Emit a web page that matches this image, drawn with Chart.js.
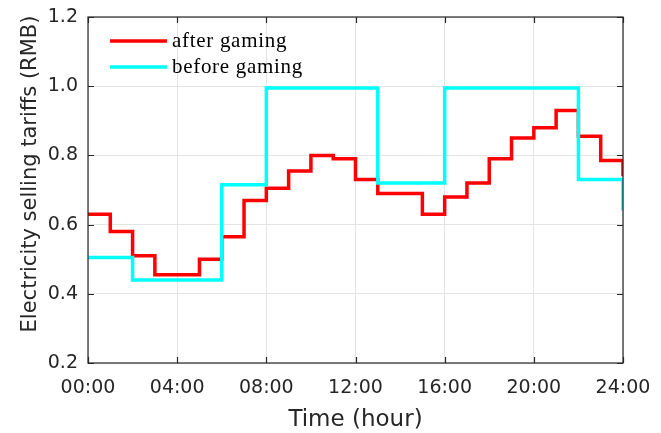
<!DOCTYPE html>
<html><head><meta charset="utf-8">
<script src="https://cdn.jsdelivr.net/npm/chart.js@4/dist/chart.umd.min.js"></script>
<style>html,body{margin:0;padding:0;background:#fff}canvas{display:block}</style>
</head><body>
<div style="width:661px;height:433px"><canvas id="c" width="661" height="433"></canvas></div>
<script>
// ---- data ----
const hours = [0,1,2,3,4,5,6,7,8,9,10,11,12,13,14,15,16,17,18,19,20,21,22,23,24];
const afterGaming  = [0.63,0.58,0.51,0.455,0.455,0.50,0.565,0.67,0.705,0.755,0.80,0.79,0.73,0.69,0.69,0.63,0.68,0.72,0.79,0.85,0.88,0.93,0.855,0.785,0.74];
const beforeGaming = [0.505,0.505,0.44,0.44,0.44,0.44,0.715,0.715,0.995,0.995,0.995,0.995,0.995,0.72,0.72,0.72,0.995,0.995,0.995,0.995,0.995,0.995,0.73,0.73,0.64];
const seriesNames = ['after gaming', 'before gaming'];
const seriesColors = ['#ff0000', '#00ffff'];
const xTickLabels = ['00:00','04:00','08:00','12:00','16:00','20:00','24:00'];
const xTitle = 'Time (hour)';
const yTitle = 'Electricity selling tariffs (RMB)';

const AX = '#262626';
const tickFont = {family: 'DejaVu Sans', size: 19};

const framePlugin = {
  id: 'frame',
  afterDraw(chart) {
    const {ctx, chartArea: a, scales} = chart;
    ctx.save();
    // box
    ctx.strokeStyle = AX; ctx.lineWidth = 1.2;
    ctx.strokeRect(a.left, a.top, a.right - a.left, a.bottom - a.top);
    // inward ticks
    const tl = 6;
    ctx.beginPath();
    scales.x.ticks.forEach(t => {
      const px = Math.round(scales.x.getPixelForValue(t.value)) + 0.5;
      ctx.moveTo(px, a.bottom); ctx.lineTo(px, a.bottom - tl);
      ctx.moveTo(px, a.top); ctx.lineTo(px, a.top + tl);
    });
    scales.y.ticks.forEach(t => {
      const py = Math.round(scales.y.getPixelForValue(t.value)) + 0.5;
      ctx.moveTo(a.left, py); ctx.lineTo(a.left + tl, py);
      ctx.moveTo(a.right, py); ctx.lineTo(a.right - tl, py);
    });
    ctx.stroke();
    // legend
    const rows = [{y: a.top + 24, base: a.top + 29.5}, {y: a.top + 50, base: a.top + 55.5}];
    seriesNames.forEach((name, i) => {
      ctx.strokeStyle = seriesColors[i]; ctx.lineWidth = 3.5;
      ctx.beginPath(); ctx.moveTo(a.left + 22, rows[i].y); ctx.lineTo(a.left + 79, rows[i].y); ctx.stroke();
      ctx.fillStyle = '#000';
      ctx.font = '21px "Liberation Serif"';
      try { ctx.letterSpacing = '0.7px'; } catch (e) {}
      ctx.textAlign = 'left'; ctx.textBaseline = 'alphabetic';
      ctx.fillText(name, a.left + 84, rows[i].base);
    });
    try { ctx.letterSpacing = '0px'; } catch (e) {}
    // axis titles
    ctx.fillStyle = AX;
    ctx.font = '23px "DejaVu Sans"';
    ctx.textAlign = 'center'; ctx.textBaseline = 'alphabetic';
    ctx.fillText(xTitle, (a.left + a.right) / 2, 426);
    ctx.save();
    ctx.translate(31, (a.top + a.bottom) / 2 - 16);
    ctx.rotate(-Math.PI / 2);
    ctx.font = '21px "DejaVu Sans"';
    ctx.textBaseline = 'middle';
    ctx.fillText(yTitle, 0, 0);
    ctx.restore();
    ctx.restore();
  }
};

new Chart(document.getElementById('c'), {
  type: 'line',
  data: {
    datasets: [
      {label: seriesNames[0], data: hours.map((h, i) => ({x: h, y: afterGaming[i]})),
       borderColor: seriesColors[0], borderWidth: 3.5, stepped: 'before', pointRadius: 0, fill: false, order: 1},
      {label: seriesNames[1], data: hours.map((h, i) => ({x: h, y: beforeGaming[i]})),
       borderColor: seriesColors[1], borderWidth: 3.5, stepped: 'before', pointRadius: 0, fill: false, order: 0}
    ]
  },
  options: {
    responsive: false, animation: false,
    layout: {padding: {left: 0, right: 38, top: 17, bottom: 0}},
    plugins: {legend: {display: false}, tooltip: {enabled: false}},
    scales: {
      x: {
        type: 'linear', min: 0, max: 24,
        afterFit(s) { s.height = 70; s.paddingLeft = 0; s.paddingRight = 0; },
        ticks: {stepSize: 4, color: AX, font: tickFont, padding: 14, maxRotation: 0,
                callback: v => xTickLabels[Math.round(v / 4)]},
        grid: {color: '#e4e4e4', drawTicks: false},
        border: {display: false}
      },
      y: {
        min: 0.2, max: 1.2,
        afterFit(s) { s.width = 88; s.paddingTop = 0; s.paddingBottom = 0; },
        ticks: {stepSize: 0.2, color: AX, font: tickFont, padding: 10,
                callback: v => Number(v).toFixed(1)},
        grid: {color: '#e4e4e4', drawTicks: false},
        border: {display: false}
      }
    }
  },
  plugins: [framePlugin]
});
</script>
</body></html>
